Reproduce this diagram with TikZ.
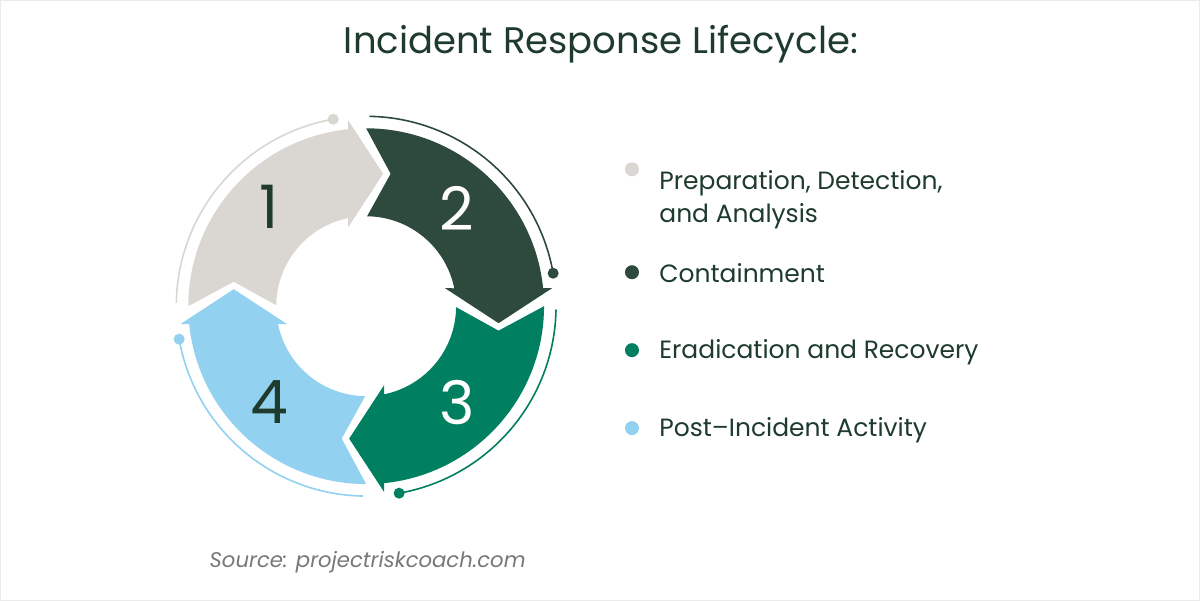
\documentclass[tikz,border=0pt]{standalone}
\usepackage{fontspec}
\setmainfont{Poppins}
\usepackage{xcolor}
\usepackage{tikz}
\usetikzlibrary{positioning}

\definecolor{segA}{RGB}{218,214,210}
\definecolor{segB}{RGB}{46,74,60}
\definecolor{segC}{RGB}{0,128,96}
\definecolor{segD}{RGB}{146,210,240}
\definecolor{ink}{RGB}{30,59,45}
\definecolor{srcgray}{RGB}{120,120,120}

\begin{document}
\begin{tikzpicture}[
  x=0.5pt, y=0.5pt,
  every node/.style={inner sep=0pt},
  trail/.style={line width=0.8pt},
  num/.style={font=\fontsize{30}{30}\selectfont},
  legdot/.style={circle, minimum size=7pt},
  legtxt/.style={font=\fontsize{12.5}{16.5}\selectfont, text=ink, align=left, anchor=base west},
]
\useasboundingbox[draw=black!8, fill=white] (0,0) rectangle (1200,600);

% Title
\node[font=\fontsize{18.5}{22}\selectfont, text=ink, anchor=base] (title) at (601,547) {Incident Response Lifecycle:};

% Cycle: one arrow, turned four times
\foreach \k/\col in {0/segA,1/segB,2/segC,3/segD}{
  \begin{scope}[shift={(366,294)}, rotate=-90*\k]
    \fill[\col] (-178,0) arc[start angle=180, end angle=95.8, radius=178]
      -- (-18,186) -- (17,132.5) -- (-18,79) -- (101.5:90)
      arc[start angle=101.5, end angle=179.4, radius=90]
      -- (-132.5,24.5) -- cycle;
    \draw[\col, trail] (100:190) arc[start angle=100, end angle=179, radius=190];
    \fill[\col] (100:190) circle[radius=5.5];
  \end{scope}
}
\node[num, text=ink]   (n1) at (269,393) {1};
\node[num, text=white] (n2) at (457,392) {2};
\node[num, text=white] (n3) at (457,198) {3};
\node[num, text=ink]   (n4) at (269,198) {4};

% Legend
\node[legdot, fill=segA] (d1) at (632,431) {};
\node[legdot, fill=segB] (d2) at (632,328) {};
\node[legdot, fill=segC] (d3) at (632,250) {};
\node[legdot, fill=segD] (d4) at (632,172) {};
\node[legtxt] (t1) at (659,378) {Preparation, Detection,\\and Analysis};
\node[legtxt] (t2) at (659,318) {Containment};
\node[legtxt] (t3) at (659,242) {Eradication and Recovery};
\node[legtxt] (t4) at (659,164) {Post--Incident Activity};

% Source
\node[font=\fontsize{10.6}{12}\selectfont\itshape, text=srcgray, anchor=base west] (src) at (209,33) {Source: projectriskcoach.com};
\end{tikzpicture}
\end{document}
